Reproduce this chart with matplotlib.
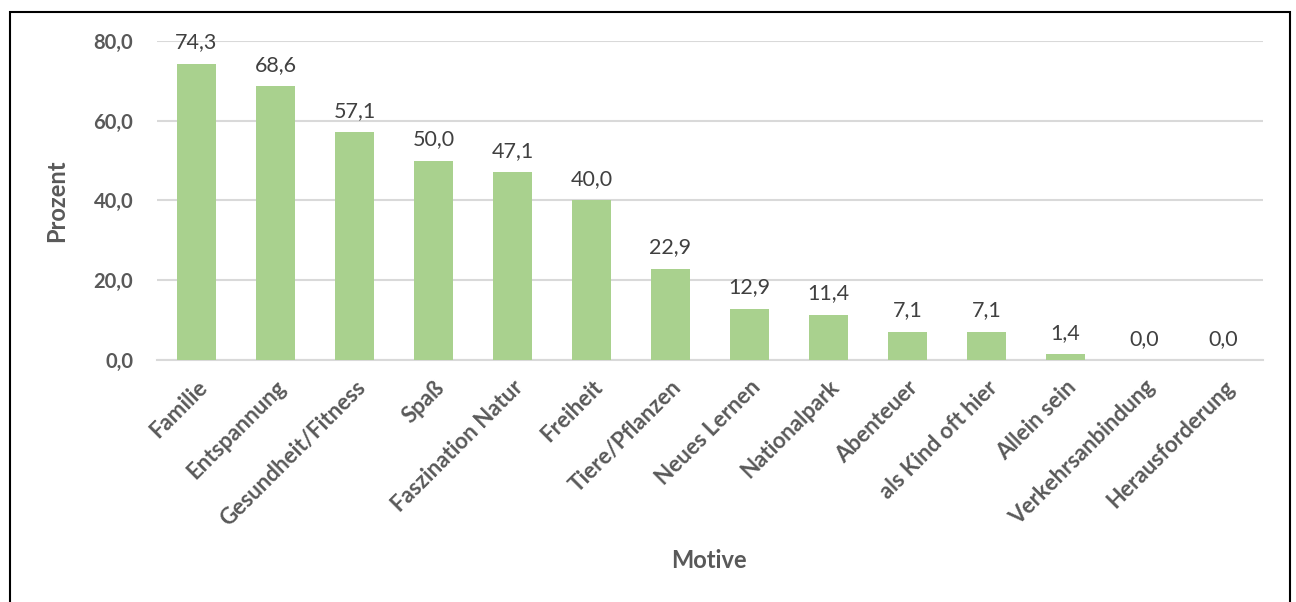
import matplotlib
matplotlib.use("Agg")
import matplotlib.pyplot as plt
from matplotlib.patches import Rectangle

motive = ["Familie", "Entspannung", "Gesundheit/Fitness", "Spaß", "Faszination Natur",
          "Freiheit", "Tiere/Pflanzen", "Neues Lernen", "Nationalpark", "Abenteuer",
          "als Kind oft hier", "Allein sein", "Verkehrsanbindung", "Herausforderung"]
prozent = [74.3, 68.6, 57.1, 50.0, 47.1, 40.0, 22.9, 12.9, 11.4, 7.1, 7.1, 1.4, 0.0, 0.0]
yticks = [0, 20, 40, 60, 80]

plt.rcParams['font.family'] = ['Lato', 'DejaVu Sans']

def de(v):
    return f"{v:.1f}".replace('.', ',')

fig = plt.figure(figsize=(12.96, 6.02), dpi=100)
ax = fig.add_axes([0.1211, 0.402, 0.8534, 0.530])

x = range(len(motive))
bars = ax.bar(x, prozent, width=0.5, color='#A9D18E', zorder=3)
for b, v in zip(bars, prozent):
    ax.annotate(de(v), (b.get_x() + b.get_width() / 2, v), xytext=(0, 8),
                textcoords='offset points', ha='center', va='bottom',
                fontsize=15.5, color='#404040')

ax.set_xlim(-0.5, len(motive) - 0.5)
ax.set_ylim(0, 80)
ax.set_yticks(yticks)
ax.set_yticklabels([de(t) for t in yticks], fontsize=14.5, fontweight='bold', color='#595959')
ax.set_xticks(list(x))
ax.set_xticklabels(motive, rotation=45, ha='right', rotation_mode='anchor',
                   fontsize=16, fontweight='bold', color='#595959')
ax.tick_params(axis='both', length=0)
ax.tick_params(axis='y', pad=17)
ax.tick_params(axis='x', pad=12)
ax.grid(axis='y', color='#D9D9D9', linewidth=1.5, zorder=0)
for s in ['top', 'right', 'left']:
    ax.spines[s].set_visible(False)
ax.spines['bottom'].set_color('#D9D9D9')
ax.spines['bottom'].set_linewidth(1.5)

ax.set_ylabel('Prozent', fontsize=17, fontweight='bold', color='#595959', labelpad=18)
fig.text(709 / 1296, 1 - 560 / 602, 'Motive', ha='center', va='center',
         fontsize=17, fontweight='bold', color='#595959')

fig.patches.append(Rectangle((10 / 1296, -0.05), 1280 / 1296, 1.05 - 12 / 602,
                             transform=fig.transFigure, fill=False,
                             edgecolor='black', linewidth=1.5))

fig.savefig('out.png', dpi=100)
